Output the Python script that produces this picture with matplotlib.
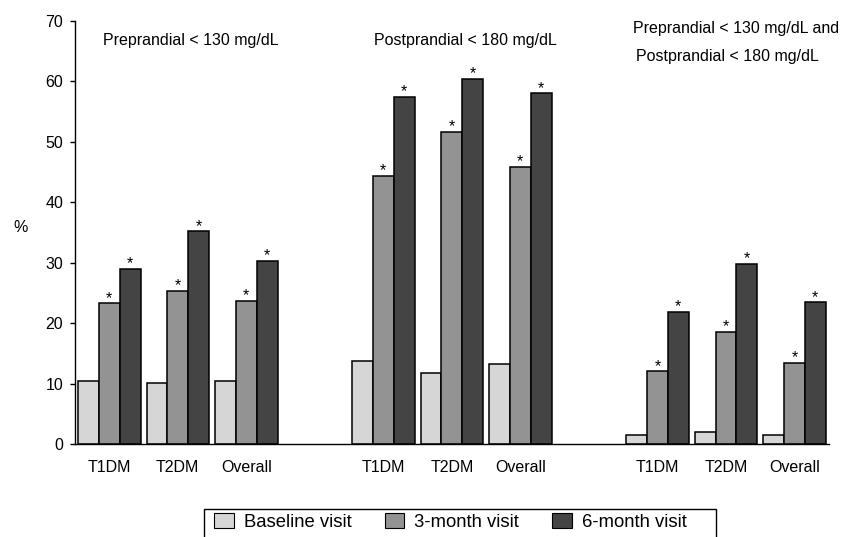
import matplotlib
matplotlib.use("Agg")
import matplotlib.pyplot as plt
from matplotlib.patches import Rectangle
import numpy as np

plt.rcParams['font.family'] = ['Liberation Sans', 'DejaVu Sans']

# data
groups = ["T1DM", "T2DM", "Overall"]
panels = ["Preprandial < 130 mg/dL",
          "Postprandial < 180 mg/dL",
          "Preprandial < 130 mg/dL and\nPostprandial < 180 mg/dL"]
visits = ["Baseline visit", "3-month visit", "6-month visit"]

baseline = [10.5, 10.2, 10.5, 13.8, 11.7, 13.2, 1.5, 2.0, 1.6]
month3 = [23.3, 25.4, 23.7, 44.4, 51.6, 45.9, 12.1, 18.6, 13.5]
month6 = [29.0, 35.2, 30.3, 57.4, 60.4, 58.0, 21.9, 29.8, 23.5]
# which bars carry a significance star (3- and 6-month all do)
star3 = [True] * 9
star6 = [True] * 9

colors = ["#d6d6d6", "#939393", "#444444"]

W, H = 841, 537
fig = plt.figure(figsize=(W / 100, H / 100), dpi=100)
ax = fig.add_axes([75 / W, 1 - 444.3 / H, (828.7 - 75) / W, (444.3 - 20.7) / H])

x = np.array([0, 1, 2, 4, 5, 6, 8, 9, 10], dtype=float)
bw = 0.304

series = [baseline, month3, month6]
stars = [None, star3, star6]
for i, (vals, col) in enumerate(zip(series, colors)):
    pos = x + (i - 1) * bw
    ax.bar(pos, vals, width=bw, color=col, edgecolor="black",
           linewidth=1.1, label=visits[i], zorder=2)
    if stars[i] is not None:
        for p, v, s in zip(pos, vals, stars[i]):
            if s:
                ax.annotate("*", (p, v), xytext=(0, 0.3), textcoords="offset points",
                            ha="center", va="baseline", fontsize=11.5)

ax.set_xlim(-0.5, 10.5)
ax.set_ylim(0, 70)
ax.set_yticks(range(0, 71, 10))
ax.tick_params(axis="y", direction="out", length=3.6, width=1, pad=5, labelsize=11.5)
ax.set_xticks(x)
ax.set_xticklabels(groups * 3, fontsize=11.5)
ax.tick_params(axis="x", length=0, pad=11)
for s in ["top", "right"]:
    ax.spines[s].set_visible(False)
for s in ["left", "bottom"]:
    ax.spines[s].set_linewidth(1)
    ax.spines[s].set_color("black")

fig.text(20.5 / W, 1 - 227 / H, "%", ha="center", va="center", fontsize=11.5)

fig.text(190.5 / W, 1 - 41 / H, panels[0], ha="center", va="center", fontsize=11.5)
fig.text(465 / W, 1 - 41 / H, panels[1], ha="center", va="center", fontsize=11.5)
line1, line2 = panels[2].split("\n")
fig.text(632.7 / W, 1 - 28.3 / H, line1, ha="left", va="center", fontsize=11.5)
fig.text(636 / W, 1 - 56.7 / H, line2, ha="left", va="center", fontsize=11.5)

# legend box, runs off the bottom edge as in the original
fig.patches.append(Rectangle((204 / W, -0.05), (715.7 - 204) / W, 0.05 + 1 - 509 / H,
                             transform=fig.transFigure, fill=False,
                             edgecolor="black", linewidth=1))
leg = fig.legend(loc="center left", bbox_to_anchor=(204 / W, 1 - 522 / H),
                 ncol=3, frameon=False, fontsize=13.3,
                 borderaxespad=0, borderpad=0.55, handlelength=1.05,
                 handleheight=0.9, handletextpad=0.55, columnspacing=1.8)
for h in leg.legend_handles:
    h.set_linewidth(0.8)

fig.savefig("out.png", dpi=100)
